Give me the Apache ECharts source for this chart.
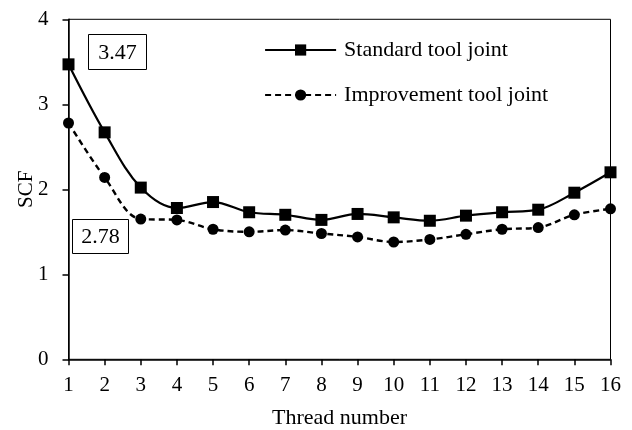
<!DOCTYPE html>
<html>
<head>
<meta charset="utf-8">
<script src="https://cdn.jsdelivr.net/npm/echarts@6/dist/echarts.min.js"></script>
<style>html,body{margin:0;padding:0;background:#fff;}#c{width:632px;height:430px;}</style>
</head>
<body>
<div id="c"></div>
<script>
const threadNumbers = [1,2,3,4,5,6,7,8,9,10,11,12,13,14,15,16];
const standardSCF = [3.47, 2.67, 2.02, 1.78, 1.85, 1.73, 1.70, 1.64, 1.71, 1.67, 1.63, 1.69, 1.73, 1.76, 1.96, 2.20];
const improvementSCF = [2.78, 2.14, 1.65, 1.64, 1.53, 1.50, 1.52, 1.48, 1.44, 1.38, 1.41, 1.47, 1.53, 1.55, 1.70, 1.77];
const seriesNames = ['Standard tool joint', 'Improvement tool joint'];
const yTicks = [0, 1, 2, 3, 4];
const annotations = ['3.47', '2.78'];

const serif = '"Liberation Serif", "Times New Roman", serif';
const chart = echarts.init(document.getElementById('c'), null, {renderer: 'canvas'});

function pairs(vals) { return threadNumbers.map((x, i) => [x, vals[i]]); }

function box(text, left, top, w, h) {
  return {
    type: 'group', left: left, top: top,
    children: [
      {type: 'rect', shape: {x: 0, y: 0, width: w, height: h},
       style: {fill: '#fff', stroke: '#000', lineWidth: 1}},
      {type: 'text', x: w / 2, y: h / 2 + 1,
       style: {text: text, font: '22px ' + serif, fill: '#000', align: 'center', verticalAlign: 'middle'}}
    ]
  };
}

chart.setOption({
  animation: false,
  backgroundColor: '#fff',
  grid: {left: 68.5, right: 21.5, top: 19.3, bottom: 70.7, show: true, borderColor: '#000', borderWidth: 1,
         containLabel: false, outerBoundsMode: 'none'},
  xAxis: {
    type: 'value', min: 1, max: 16, interval: 1,
    name: 'Thread number', nameLocation: 'middle', nameGap: 48,
    nameTextStyle: {fontFamily: serif, fontSize: 22, color: '#000'},
    axisLine: {lineStyle: {color: '#000', width: 1.5}},
    axisTick: {show: true, length: 6, lineStyle: {color: '#000', width: 1.5}},
    axisLabel: {fontFamily: serif, fontSize: 21, color: '#000', margin: 16},
    splitLine: {show: false}
  },
  yAxis: {
    type: 'value', min: yTicks[0], max: yTicks[yTicks.length - 1], interval: 1,
    name: 'SCF', nameLocation: 'middle', nameGap: 32, nameMoveOverlap: false,
    nameTextStyle: {fontFamily: serif, fontSize: 21, color: '#000'},
    axisLine: {show: true, lineStyle: {color: '#000', width: 1.5}},
    axisTick: {show: true, length: 6, lineStyle: {color: '#000', width: 1.5}},
    axisLabel: {fontFamily: serif, fontSize: 21, color: '#000', margin: 20},
    splitLine: {show: false}
  },
  legend: {
    orient: 'vertical', left: 259, top: 33,
    itemWidth: 71, itemHeight: 14, itemGap: 21,
    textStyle: {fontFamily: serif, fontSize: 22, color: '#000', lineHeight: 24, padding: [0, 0, 0, 3]},
    data: [
      {name: seriesNames[0], lineStyle: {width: 2, type: 'solid'}},
      {name: seriesNames[1], lineStyle: {width: 2.2, type: [6, 4]}}
    ]
  },
  series: [
    {
      name: seriesNames[0], type: 'line', data: pairs(standardSCF), smooth: 0.35,
      symbol: 'rect', symbolSize: 12,
      lineStyle: {color: '#000', width: 2.2, type: 'solid'},
      itemStyle: {color: '#000'}
    },
    {
      name: seriesNames[1], type: 'line', data: pairs(improvementSCF), smooth: 0.35,
      symbol: 'circle', symbolSize: 11,
      lineStyle: {color: '#000', width: 2.4, type: [6, 4]},
      itemStyle: {color: '#000'}
    }
  ],
  graphic: [
    box(annotations[0], 88, 34, 58, 35),
    box(annotations[1], 72, 219, 56, 34)
  ]
});
</script>
</body>
</html>
